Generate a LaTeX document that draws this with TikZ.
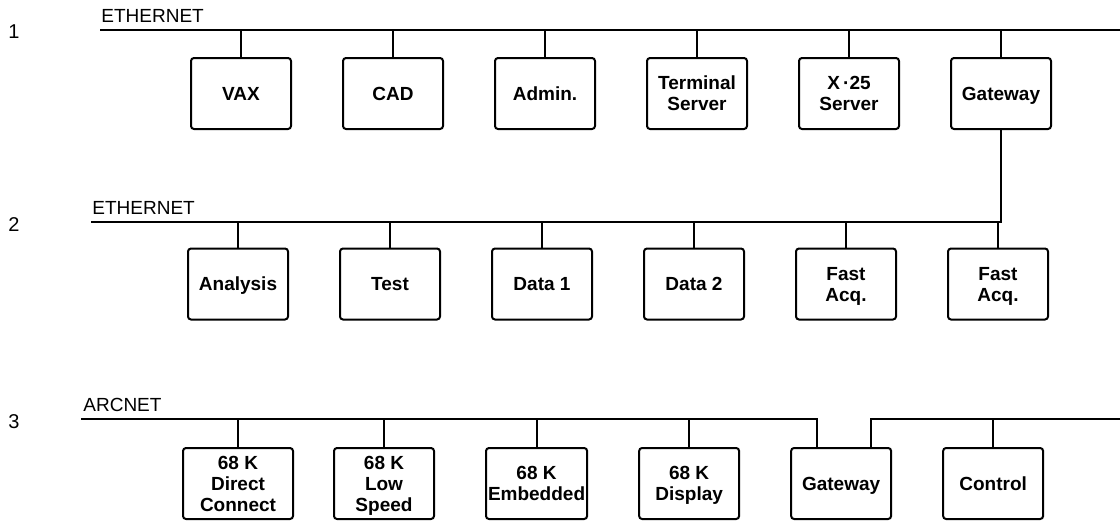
\documentclass[tikz,border=0pt]{standalone}
\usepackage{fontspec}
\setmainfont{Liberation Sans}
\usetikzlibrary{positioning}
\tikzset{
	station/.style={draw, line width=1pt, rounded corners=1.5pt,
		minimum width=50pt, minimum height=35.5pt, inner sep=1pt, align=center,
		text depth=0pt, font=\fontsize{9.5}{10.5}\selectfont\bfseries},
	lan/.style={line width=1.3pt},
	tap/.style={line width=1pt},
	netname/.style={anchor=south west, inner sep=0pt, font=\fontsize{9.5}{11}\selectfont},
	rowno/.style={inner sep=0pt, font=\fontsize{10}{12}\selectfont}
}
\begin{document}
\begin{tikzpicture}[x=0.5pt, y=-0.5pt, node distance=25pt]
	\useasboundingbox (0,0) rectangle (1120,520);

	% first ethernet
	\node[rowno] (no1) at (14,32) {1};
	\coordinate (lan1w) at (100,30);
	\coordinate (lan1e) at (1120,30);
	\node[netname] (lan1name) at ([xshift=0.5pt, yshift=3.5pt]lan1w) {ETHERNET};
	\draw[lan] (lan1w) -- (lan1e);
	\node[station] (vax) at (241,93.5) {VAX};
	\node[station, right=of vax] (cad) {CAD};
	\node[station, right=of cad] (admin) {Admin.};
	\node[station, right=of admin] (tserv) {Terminal\\Server};
	\node[station, right=of tserv] (xserv) {X\,·25\\Server};
	\node[station, right=of xserv] (gw1) {Gateway};
	\foreach \n in {vax,cad,admin,tserv,xserv,gw1}
		\draw[tap] (\n.north) -- (\n.north |- lan1w);

	% second ethernet
	\node[rowno] (no2) at (14,225) {2};
	\coordinate (lan2w) at (91,222);
	\node[netname] (lan2name) at ([xshift=0.5pt, yshift=3.5pt]lan2w) {ETHERNET};
	\draw[lan] (lan2w) -- (lan2w -| gw1.south) -- (gw1.south);
	\node[station] (analysis) at (238,284) {Analysis};
	\node[station, right=of analysis] (test) {Test};
	\node[station, right=of test] (data1) {Data 1};
	\node[station, right=of data1] (data2) {Data 2};
	\node[station, right=of data2] (acq1) {Fast\\Acq.};
	\node[station, right=of acq1] (acq2) {Fast\\Acq.};
	\foreach \n in {analysis,test,data1,data2,acq1,acq2}
		\draw[tap] (\n.north) -- (\n.north |- lan2w);

	% arcnet
	\node[rowno] (no3) at (14,422) {3};
	\coordinate (lan3w) at (81,419);
	\coordinate (lan3e) at (1120,419);
	\node[netname] (lan3name) at ([xshift=1pt, yshift=3.5pt]lan3w) {ARCNET};
	\node[station, minimum width=55pt] (direct) at (238,483.5) {68 K\\Direct\\Connect};
	\node[station, right=19.5pt of direct] (lowspeed) {68 K\\Low\\Speed};
	\node[station, right=of lowspeed] (embedded) {68 K\\Embedded};
	\node[station, right=of embedded] (display) {68 K\\Display};
	\node[station, right=of display] (gw2) {Gateway};
	\node[station, right=of gw2] (control) {Control};
	\coordinate (gw2l) at ([xshift=-12pt]gw2.north);
	\coordinate (gw2r) at ([xshift=15pt]gw2.north);
	\draw[lan] (lan3w) -- (lan3w -| gw2l) -- (gw2l);
	\draw[lan] (gw2r) -- (gw2r |- lan3e) -- (lan3e);
	\foreach \n in {direct,lowspeed,embedded,display,control}
		\draw[tap] (\n.north) -- (\n.north |- lan3w);
\end{tikzpicture}
\end{document}
